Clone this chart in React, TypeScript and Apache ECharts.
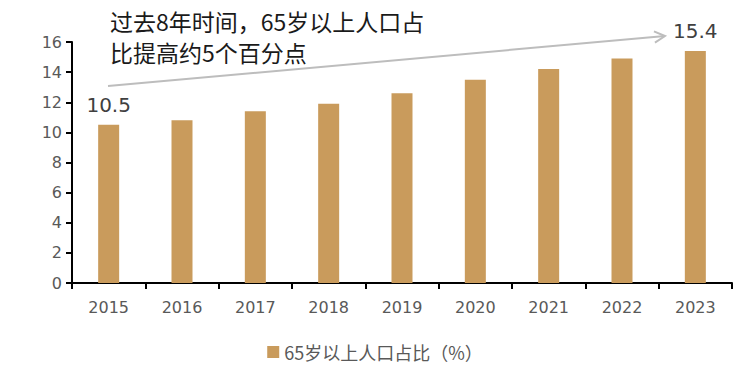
import React, { useEffect, useRef } from "react";
import * as echarts from "echarts";

const categories = ["2015", "2016", "2017", "2018", "2019", "2020", "2021", "2022", "2023"];
const shareValues = [10.5, 10.8, 11.4, 11.9, 12.6, 13.5, 14.2, 14.9, 15.4];
const seriesName = "65岁以上人口占比（%）";
const noteLines = ["过去8年时间，65岁以上人口占", "比提高约5个百分点"];

export default function App() {
  const ref = useRef<HTMLDivElement>(null);
  useEffect(() => {
    const el = ref.current!;
    const chart = echarts.init(el, null, { renderer: "svg" });
    const last = shareValues.length - 1;
    // arrow geometry
    const x1 = 108, y1 = 86, x2 = 665, y2 = 36;
    const dx = x2 - x1, dy = y2 - y1;
    const len = Math.sqrt(dx * dx + dy * dy);
    const ux = dx / len, uy = dy / len;
    const hl = 12;
    const ang = (28 * Math.PI) / 180;
    const rot = (a: number) => [ux * Math.cos(a) - uy * Math.sin(a), ux * Math.sin(a) + uy * Math.cos(a)];
    const r1 = rot(ang), r2 = rot(-ang);
    chart.setOption({
      animation: false,
      backgroundColor: "#ffffff",
      textStyle: { fontFamily: "DejaVu Sans, Noto Sans CJK SC" },
      grid: { left: 72, right: 18, top: 42, bottom: 99, containLabel: false },
      xAxis: {
        type: "category",
        data: categories,
        axisLine: { lineStyle: { color: "#000", width: 2 } },
        axisTick: { show: true, length: 6, lineStyle: { color: "#000", width: 2 } },
        axisLabel: { color: "#595959", fontSize: 16, margin: 16 },
      },
      yAxis: {
        type: "value",
        min: 0,
        max: 16,
        interval: 2,
        splitLine: { show: false },
        axisLine: { show: true, lineStyle: { color: "#000", width: 2 } },
        axisTick: { show: true, length: 6, lineStyle: { color: "#000", width: 2 } },
        axisLabel: { color: "#595959", fontSize: 16, margin: 10 },
      },
      legend: {
        bottom: 16,
        left: "center",
        icon: "rect",
        itemWidth: 12,
        itemHeight: 12,
        itemGap: 6,
        textStyle: { color: "#595959", fontSize: 18, fontFamily: "Noto Sans CJK SC" },
        data: [seriesName],
      },
      series: [
        {
          name: seriesName,
          type: "bar",
          data: shareValues.map((v, i) => ({
            value: v,
            label: {
              show: i === 0 || i === last,
              position: "top",
              distance: 10,
              color: "#404040",
              fontSize: 20,
              formatter: (p: any) => p.value.toFixed(1),
            },
          })),
          barWidth: 21,
          itemStyle: { color: "#C99B5C" },
        },
      ],
      graphic: [
        {
          type: "line",
          shape: { x1, y1, x2, y2 },
          style: { stroke: "#BDBDBD", lineWidth: 2 },
          z: 100,
        },
        {
          type: "polyline",
          shape: {
            points: [
              [x2 - r1[0] * hl, y2 - r1[1] * hl],
              [x2, y2],
              [x2 - r2[0] * hl, y2 - r2[1] * hl],
            ],
          },
          style: { stroke: "#BDBDBD", lineWidth: 2, fill: "none" },
          z: 100,
        },
        {
          type: "text",
          left: 110,
          top: 9,
          style: {
            text: noteLines[0],
            fill: "#1a1a1a",
            font: "23px 'Noto Sans CJK SC'",
          },
          z: 101,
        },
        {
          type: "text",
          left: 110,
          top: 40,
          style: {
            text: noteLines[1],
            fill: "#1a1a1a",
            font: "23px 'Noto Sans CJK SC'",
          },
          z: 101,
        },
      ],
    });
    return () => chart.dispose();
  }, []);
  return <div ref={ref} style={{ width: 750, height: 382, position: "absolute", left: 0, top: 0 }} />;
}
